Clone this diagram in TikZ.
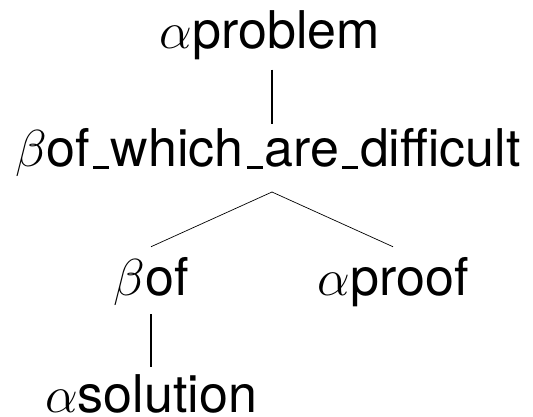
\documentclass[tikz,border=0pt]{standalone}
\usepackage{fix-cm}
\usepackage{fontspec}
\setmainfont{TeX Gyre Heros}
\newcommand{\lowbar}{\leavevmode\kern.06em\rule[-.06em]{.3em}{.06em}\kern.04em}
\tikzset{
  word/.style={anchor=base,inner sep=0pt,font=\fontsize{52}{62}\selectfont},
  stem/.style={line width=1.5pt},
  branch/.style={line width=0.7pt}
}
\begin{document}
\begin{tikzpicture}[x=1pt,y=-1pt]
\useasboundingbox (0,0) rectangle (533,416);
\node[word] (prob) at (270,48) {$\alpha$problem};
\node[word] (which) at (268,166) {$\beta$of\lowbar which\lowbar are\lowbar difficult};
\node[word] (bof) at (151,295) {$\beta$of};
\node[word] (proof) at (393,295) {$\alpha$proof};
\node[word] (sol) at (151,412) {$\alpha$solution};
\coordinate (fork) at (272,192);
\coordinate (ptop) at (prob.south -| fork);
\coordinate (wtop) at (which.north -| fork);
\draw[stem] ([yshift=-10pt]ptop) -- ([yshift=4pt]wtop);
\draw[branch] (fork) -- ([yshift=10pt]bof.north);
\draw[branch] (fork) -- ([yshift=10pt]proof.north);
\draw[stem] ([yshift=-9pt]bof.south) -- ([yshift=7pt]sol.north);
\end{tikzpicture}
\end{document}
